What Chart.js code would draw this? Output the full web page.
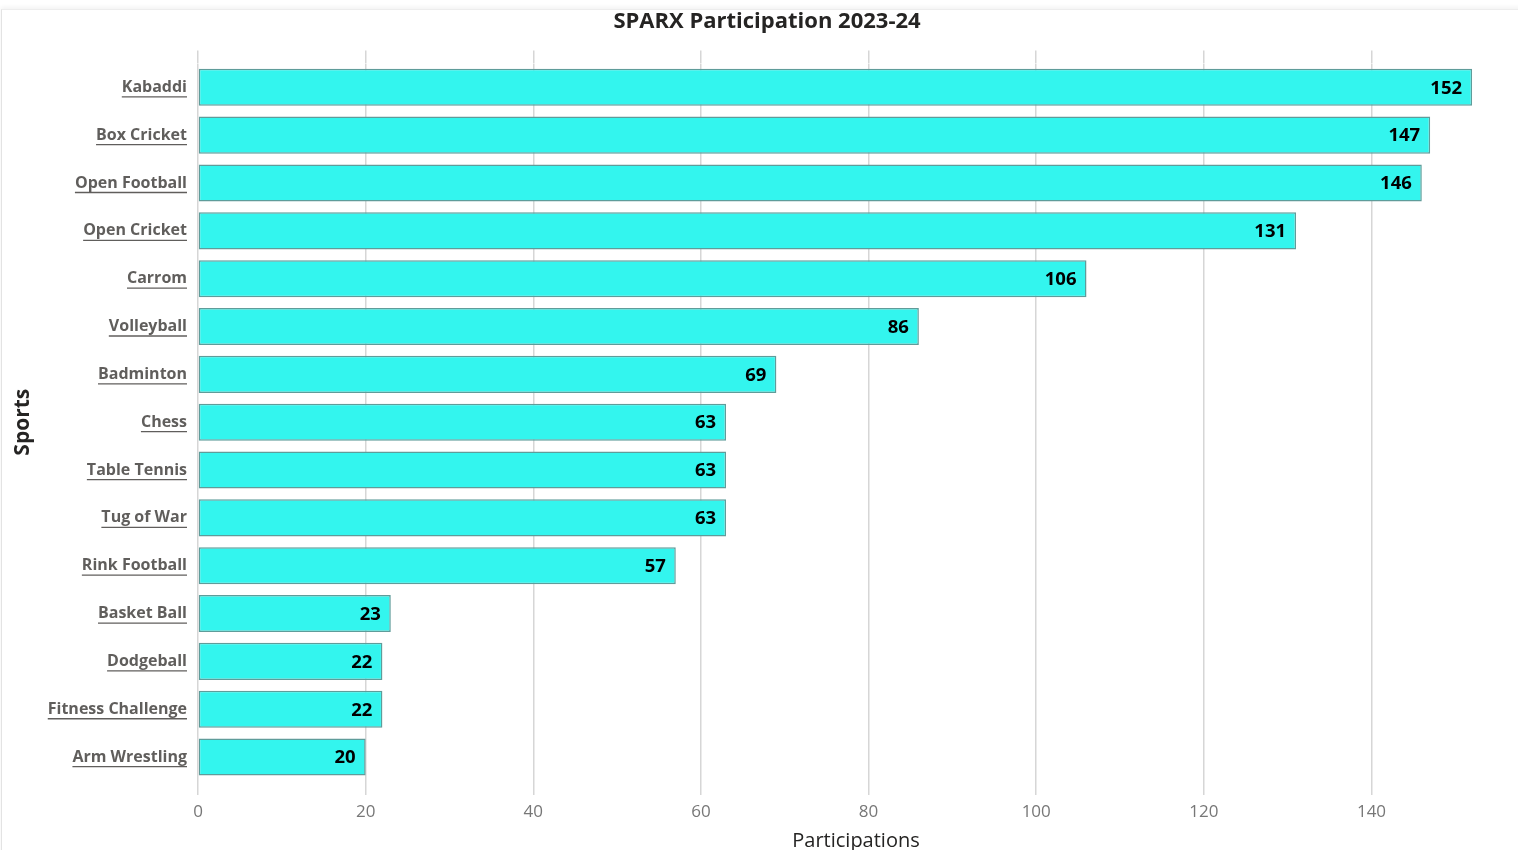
<!DOCTYPE html>
<html>
<head>
<meta charset="utf-8">
<script src="https://cdn.jsdelivr.net/npm/chart.js@4/dist/chart.umd.min.js"></script>
<style>
  body { margin: 0; background: #fff; }
  #wrap { position: relative; width: 1518px; height: 850px; overflow: hidden; }
  #frame { position: absolute; left: 1px; top: 9px; right: -5px; bottom: -5px;
           border-left: 1px solid #e3e3e3; border-top: 1px solid #ededed;
           box-shadow: 0 -2px 4px rgba(0,0,0,0.05); pointer-events: none; }
  canvas { position: absolute; left: 0; top: 0; }
</style>
</head>
<body>
<div id="wrap">
  <div id="frame"></div>
  <canvas id="barChart" width="1518" height="850"></canvas>
</div>
<script>
const sports = ['Kabaddi', 'Box Cricket', 'Open Football', 'Open Cricket', 'Carrom', 'Volleyball', 'Badminton',
    'Chess', 'Table Tennis', 'Tug of War', 'Rink Football', 'Basket Ball', 'Dodgeball', 'Fitness Challenge', 'Arm Wrestling'];
const participations = [152, 147, 146, 131, 106, 86, 69, 63, 63, 63, 57, 23, 22, 22, 20];
const xTicks = [0, 20, 40, 60, 80, 100, 120, 140];

const labelGray = '#605E5C';
const dark = '#252423';

// value labels at the end of each bar
const valueLabels = {
    id: 'valueLabels',
    afterDatasetsDraw(chart) {
        const ctx = chart.ctx;
        const meta = chart.getDatasetMeta(0);
        ctx.save();
        ctx.font = 'bold 18.5px "Open Sans"';
        ctx.fillStyle = '#000';
        ctx.textAlign = 'right';
        ctx.textBaseline = 'middle';
        meta.data.forEach((bar, i) => {
            ctx.fillText(participations[i], bar.x - 10, bar.y + 1);
        });
        ctx.restore();
    }
};

// underline the category labels
const underlineTicks = {
    id: 'underlineTicks',
    afterDraw(chart) {
        const scale = chart.scales.y;
        const ctx = chart.ctx;
        ctx.save();
        ctx.font = 'bold 16px "Open Sans"';
        ctx.strokeStyle = labelGray;
        ctx.lineWidth = 1.3;
        scale.ticks.forEach((t, i) => {
            const w = ctx.measureText(sports[i]).width;
            const y = scale.getPixelForTick(i) + 9.5;
            const xr = scale.right - 11;
            ctx.beginPath();
            ctx.moveTo(xr - w, y);
            ctx.lineTo(xr, y);
            ctx.stroke();
        });
        ctx.restore();
    }
};

const ctx = document.getElementById('barChart').getContext('2d');
const myChart = new Chart(ctx, {
    type: 'bar',
    data: {
        labels: sports,
        datasets: [{
            label: 'Participations',
            data: participations,
            backgroundColor: '#33F5EE',
            borderColor: '#5F9C9A',
            borderWidth: 1.5,
            borderSkipped: false,
            barPercentage: 0.775,
            categoryPercentage: 1
        }]
    },
    options: {
        responsive: false,
        animation: false,
        indexAxis: 'y',
        layout: { padding: { left: 20, right: 4, top: 0, bottom: 0 } },
        plugins: {
            legend: { display: false },
            tooltip: { enabled: false },
            title: {
                display: true,
                text: 'SPARX Participation 2023-24',
                color: dark,
                font: { family: '"Open Sans"', size: 22, weight: 'bold' },
                padding: { top: 9, bottom: 15 }
            }
        },
        scales: {
            x: {
                type: 'linear',
                position: 'bottom',
                min: 0,
                max: 157,
                afterBuildTicks(scale) { scale.ticks = xTicks.map(v => ({ value: v })); },
                afterFit(scale) { scale.height = 69; },
                border: { display: false },
                grid: { color: '#d6d6d6', lineWidth: 1.5, tickLength: 14, tickColor: '#d6d6d6' },
                ticks: {
                    color: '#777',
                    padding: 7,
                    font: { family: '"Open Sans"', size: 17 }
                },
                title: {
                    display: true,
                    text: 'Participations',
                    color: dark,
                    font: { family: '"Open Sans"', size: 20 },
                    padding: { top: 0, bottom: -3 }
                }
            },
            x2: {
                type: 'linear',
                position: 'top',
                min: 0,
                max: 157,
                afterBuildTicks(scale) { scale.ticks = xTicks.map(v => ({ value: v })); },
                afterFit(scale) { scale.height = 13; },
                border: { display: false },
                grid: { drawOnChartArea: false, tickLength: 13, tickColor: '#d6d6d6', lineWidth: 1.5 },
                ticks: { display: false }
            },
            y: {
                afterFit(scale) { scale.width = 178; },
                border: { display: false },
                grid: { display: false, drawTicks: false },
                ticks: {
                    color: labelGray,
                    padding: 11,
                    font: { family: '"Open Sans"', size: 16, weight: 'bold' }
                },
                title: {
                    display: true,
                    text: 'Sports',
                    color: dark,
                    font: { family: '"Open Sans"', size: 21, weight: 'bold' },
                    padding: { top: -10, bottom: 0 }
                }
            }
        }
    },
    plugins: [valueLabels, underlineTicks]
});
</script>
</body>
</html>
